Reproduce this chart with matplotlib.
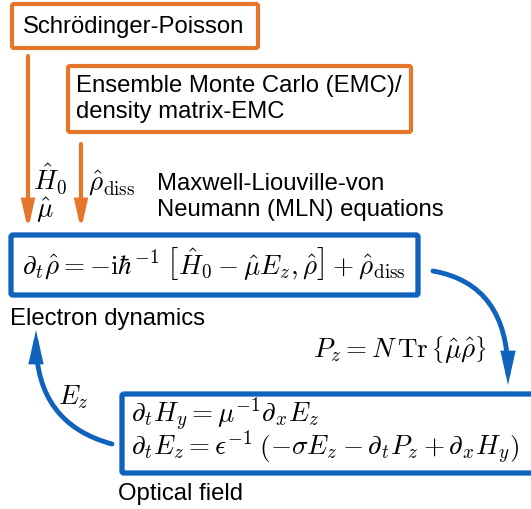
import matplotlib
matplotlib.use("Agg")
import matplotlib.pyplot as plt
from matplotlib.patches import FancyBboxPatch, FancyArrowPatch

plt.rcParams['font.family'] = ['Liberation Sans', 'DejaVu Sans']
plt.rcParams['mathtext.fontset'] = 'cm'

ORANGE = '#E6772A'
BLUE = '#0F63BD'

# texts of the diagram
source_labels = ['Schrödinger-Poisson', 'Ensemble Monte Carlo (EMC)/', 'density matrix-EMC']
input_labels = [r'$\hat{H}_0$', r'$\hat{\mu}$', r'$\hat{\rho}_{\rm diss}$']
mln_title = ['Maxwell-Liouville-von', 'Neumann (MLN) equations']
electron_eq = (r'$\partial_t\hat{\rho} = -\mathrm{i}\hbar^{-1}\;\left[\hat{H}_0 - \hat{\mu}E_z, \hat{\rho}\right]'
               r' + \hat{\rho}_{\rm diss}$')
field_eqs = [r'$\partial_t H_y = \mu^{-1}\partial_x E_z$',
             r'$\partial_t E_z = \epsilon^{-1}\;\left(-\sigma E_z - \partial_t P_z + \partial_x H_y\right)$']
coupling_labels = [r'$P_z = N\,\mathrm{Tr}\,\left\{\hat{\mu}\hat{\rho}\right\}$', r'$E_z$']
box_titles = ['Electron dynamics', 'Optical field']

FS = 17.2   # sans text
MFS = 19.5  # math

fig = plt.figure(figsize=(5.31, 5.10), dpi=100)
ax = fig.add_axes([0, 0, 1, 1])
ax.set_xlim(0, 531)
ax.set_ylim(510, 0)
ax.axis('off')


def box(x0, y0, x1, y1, color, lw):
    p = FancyBboxPatch((x0, y0), x1 - x0, y1 - y0,
                       boxstyle='round,pad=0,rounding_size=2',
                       fc='none', ec=color, lw=lw, clip_on=True)
    ax.add_patch(p)


def arrow(a, b, color, style='arc3', lw=3.0):
    p = FancyArrowPatch(a, b, connectionstyle=style,
                        arrowstyle='-|>,head_length=1.25,head_width=0.28',
                        mutation_scale=12, color=color, lw=lw,
                        shrinkA=0, shrinkB=0, joinstyle='miter')
    ax.add_patch(p)


def txt(x, y, s, size=FS, **kw):
    ax.text(x, y, s, fontsize=size, va='baseline', ha='left', **kw)


# orange sources
box(12, 5, 258, 49, ORANGE, 3.0)
txt(23, 33, source_labels[0])
box(68, 67, 411, 133, ORANGE, 3.0)
txt(76, 92, source_labels[1])
txt(76, 118, source_labels[2])

arrow((28, 57), (28, 231), ORANGE)
arrow((81, 145), (81, 231), ORANGE)
txt(33, 189, input_labels[0], MFS)
txt(36, 217, input_labels[1], MFS)
txt(88, 191, input_labels[2], MFS)
txt(157, 190, mln_title[0])
txt(157, 216, mln_title[1])

# electron dynamics
box(11, 236, 418, 296, BLUE, 3.8)
txt(22, 274, electron_eq, MFS)
txt(10, 325, box_titles[0])

# optical field: both equations in one text block
box(122, 395, 560, 474, BLUE, 3.8)
txt(131, 455, '\n'.join(field_eqs), MFS, linespacing=0.8)
txt(118, 500, box_titles[1])

# coupling arrows
arrow((433, 272), (508, 386), BLUE, 'angle3,angleA=-10,angleB=90', lw=3.5)
txt(313, 357, coupling_labels[0], MFS)
arrow((112, 445), (36, 331), BLUE, 'angle3,angleA=165,angleB=90', lw=3.5)
txt(58, 404, coupling_labels[1], MFS)

fig.savefig('out.png', dpi=100)
